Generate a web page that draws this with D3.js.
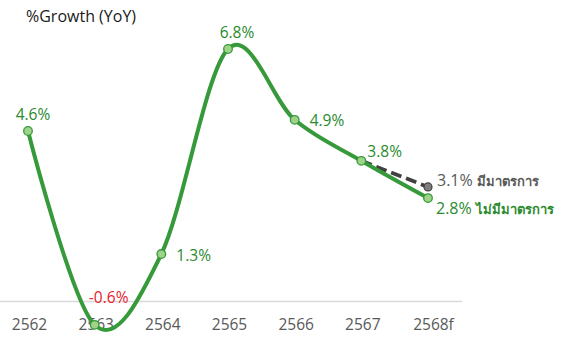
<!DOCTYPE html>
<html><head><meta charset="utf-8">
<script src="https://cdn.jsdelivr.net/npm/d3@7"></script>
<style>body{margin:0;background:#fff}svg{display:block}</style>
</head><body><svg id="c" width="564" height="347"></svg>
<script>
const categories = ["2562","2563","2564","2565","2566","2567","2568f"];
const growthNoMeasure = [4.6, -0.6, 1.3, 6.8, 4.9, 3.8, 2.8];
const measureCats = ["2567","2568f"];
const growthMeasure = [3.8, 3.1];
const title = "%Growth (YoY)";
const labelMeasure = "มีมาตรการ";
const labelNoMeasure = "ไม่มีมาตรการ";

const svg = d3.select("#c");
const font = "'Open Sans','Noto Sans',sans-serif";
const x = d3.scalePoint().domain(categories).range([28, 428]);
const y = d3.scaleLinear().domain([0, 6.8]).range([302.5, 49]);

// axis baseline
svg.append("line").attr("x1",0).attr("x2",462).attr("y1",y(0)-1).attr("y2",y(0)-1)
  .attr("stroke","#d9d9d9").attr("stroke-width",1.3);

const axis = d3.axisBottom(x).tickSize(0).tickPadding(0);
const ag = svg.append("g").attr("transform",`translate(0,${y(0)+22})`).call(axis);
ag.select(".domain").remove();
ag.selectAll("text").attr("font-family",font).attr("font-size",15.5).attr("fill","#595959")
  .attr("dy","0.35em").attr("dx",(d,i)=> i===categories.length-1 ? 5 : 1);

svg.append("text").attr("x",26).attr("y",22).text(title)
  .attr("font-family",font).attr("font-size",16).attr("fill","#1a1a1a");

const line = d3.line().curve(d3.curveCardinal.tension(0));
const green = "#36993a";

const mPts = measureCats.map((c,i)=>[x(c), y(growthMeasure[i])]);
svg.append("path").attr("d", d3.line()(mPts)).attr("fill","none")
  .attr("stroke","#404040").attr("stroke-width",3.8).attr("stroke-dasharray","11,5");
svg.append("circle").attr("cx",mPts[1][0]).attr("cy",mPts[1][1]).attr("r",4)
  .attr("fill","#7f7f7f").attr("stroke","#404040").attr("stroke-width",1.2);

const pts = categories.map((c,i)=>[x(c), y(growthNoMeasure[i])]);
svg.append("path").attr("d", line(pts)).attr("fill","none")
  .attr("stroke",green).attr("stroke-width",4);
svg.selectAll("circle.g").data(pts).enter().append("circle").attr("class","g")
  .attr("cx",d=>d[0]).attr("cy",d=>d[1]).attr("r",4.3)
  .attr("fill","#9fd389").attr("stroke",green).attr("stroke-width",1.3);

// data labels
const lab = [
  {dx:5, dy:-11, anchor:"middle", color:"#2a8a2e"},
  {dx:14, dy:-22, anchor:"middle", color:"#e8242c"},
  {dx:15, dy:7, anchor:"start", color:"#2a8a2e"},
  {dx:9, dy:-11, anchor:"middle", color:"#2a8a2e"},
  {dx:15, dy:6, anchor:"start", color:"#2a8a2e"},
  {dx:6, dy:-4, anchor:"start", color:"#2a8a2e"},
];
lab.forEach((l,i)=>{
  svg.append("text").attr("x",pts[i][0]+l.dx).attr("y",pts[i][1]+l.dy)
    .attr("text-anchor",l.anchor).attr("font-family",font).attr("font-size",15.5)
    .attr("fill",l.color).text(growthNoMeasure[i].toFixed(1)+"%");
});
const t1 = svg.append("text").attr("x",mPts[1][0]+9).attr("y",mPts[1][1]-1)
  .attr("font-family",font).attr("fill","#595959");
t1.append("tspan").attr("font-size",16).text(growthMeasure[1].toFixed(1)+"% ");
t1.append("tspan").attr("font-size",13).attr("font-weight","bold").text(labelMeasure);
const t2 = svg.append("text").attr("x",pts[6][0]+8).attr("y",pts[6][1]+16)
  .attr("font-family",font).attr("fill","#2a8a2e");
t2.append("tspan").attr("font-size",16).text(growthNoMeasure[6].toFixed(1)+"% ");
t2.append("tspan").attr("font-size",13).attr("font-weight","bold").text(labelNoMeasure);
</script></body></html>
